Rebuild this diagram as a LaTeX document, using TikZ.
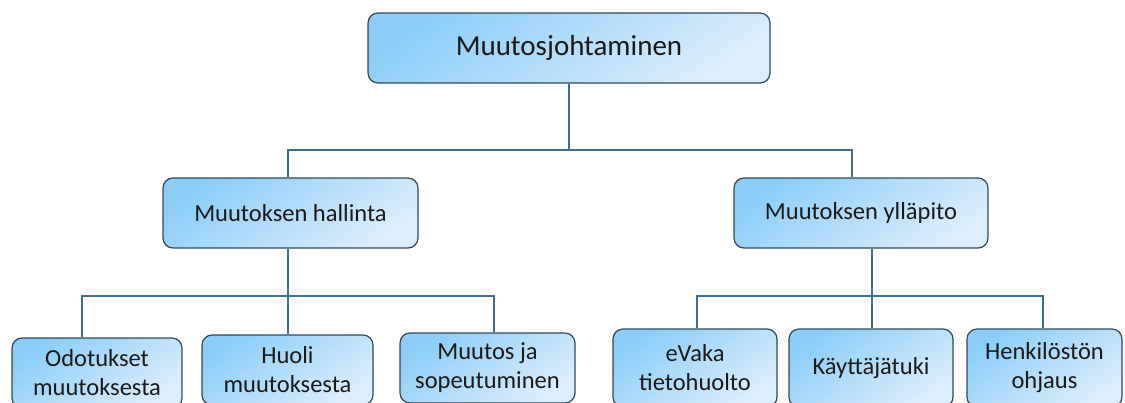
\documentclass[tikz,border=0pt]{standalone}
\usepackage{fontspec}
\setmainfont{Carlito}
\definecolor{boxA}{HTML}{8CCDF7}
\definecolor{boxB}{HTML}{DCEEFC}
\definecolor{edge}{HTML}{2E4A5C}
\definecolor{wire}{HTML}{3E6F8F}
\definecolor{ink}{HTML}{1A1A1A}
\tikzset{
  box/.style={draw=edge, line width=1.2pt, rounded corners=10pt, top color=boxA, bottom color=boxB, shading angle=35,
    minimum height=70pt, inner sep=0pt, align=center, text=ink},
  lowbox/.style={box, minimum height=78pt},
  bigtext/.style={font=\fontsize{29}{34}\selectfont},
  midtext/.style={font=\fontsize{24.5}{28}\selectfont},
  smalltext/.style={font=\fontsize{24.5}{29}\selectfont},
  conn/.style={draw=wire, line width=2pt}
}
\begin{document}
\begin{tikzpicture}[x=1pt,y=-1pt]
\useasboundingbox (0,0) rectangle (1125,402);
\clip (0,0) rectangle (1125,402);
\node[box,bigtext,minimum width=402pt] (top) at (569,48) {Muutosjohtaminen};
\node[box,midtext,minimum width=255pt] (ml) at (290.5,213) {Muutoksen hallinta};
\node[box,midtext,minimum width=254pt] (mr) at (861,213) {Muutoksen ylläpito};
\node[box,smalltext,minimum width=170pt] (o1) at (97,373) {Odotukset\\muutoksesta};
\node[box,smalltext,minimum width=171pt] (o2) at (287.5,370) {Huoli\\muutoksesta};
\node[box,smalltext,minimum width=175pt] (o3) at (487.5,368) {Muutos ja\\sopeutuminen};
\node[lowbox,smalltext,minimum width=164pt] (p1) at (695,368) {eVaka\\tietohuolto};
\node[lowbox,smalltext,minimum width=164pt] (p2) at (871,368) {Käyttäjätuki};
\node[lowbox,smalltext,minimum width=155pt] (p3) at (1044.5,368) {Henkilöstön\\ohjaus};
\coordinate (b1) at (0,150);
\coordinate (b2) at (0,296);
\draw[conn] (top.south) -- (top.south |- b1);
\draw[conn] ([xshift=-2.5pt]ml.north) |- ([xshift=-9pt]mr.north |- b1) -- ([xshift=-9pt]mr.north);
\draw[conn] ([xshift=-2.5pt]ml.south) -- ([xshift=-2.5pt]ml.south |- o2.north);
\draw[conn] ([xshift=-15pt]o1.north) |- ([xshift=6.5pt]o3.north |- b2) -- ([xshift=6.5pt]o3.north);
\draw[conn] ([xshift=11pt]mr.south) -- ([xshift=11pt]mr.south |- p2.north);
\draw[conn] ([xshift=2pt]p1.north) |- ([xshift=-1.5pt]p3.north |- b2) -- ([xshift=-1.5pt]p3.north);
\end{tikzpicture}
\end{document}
